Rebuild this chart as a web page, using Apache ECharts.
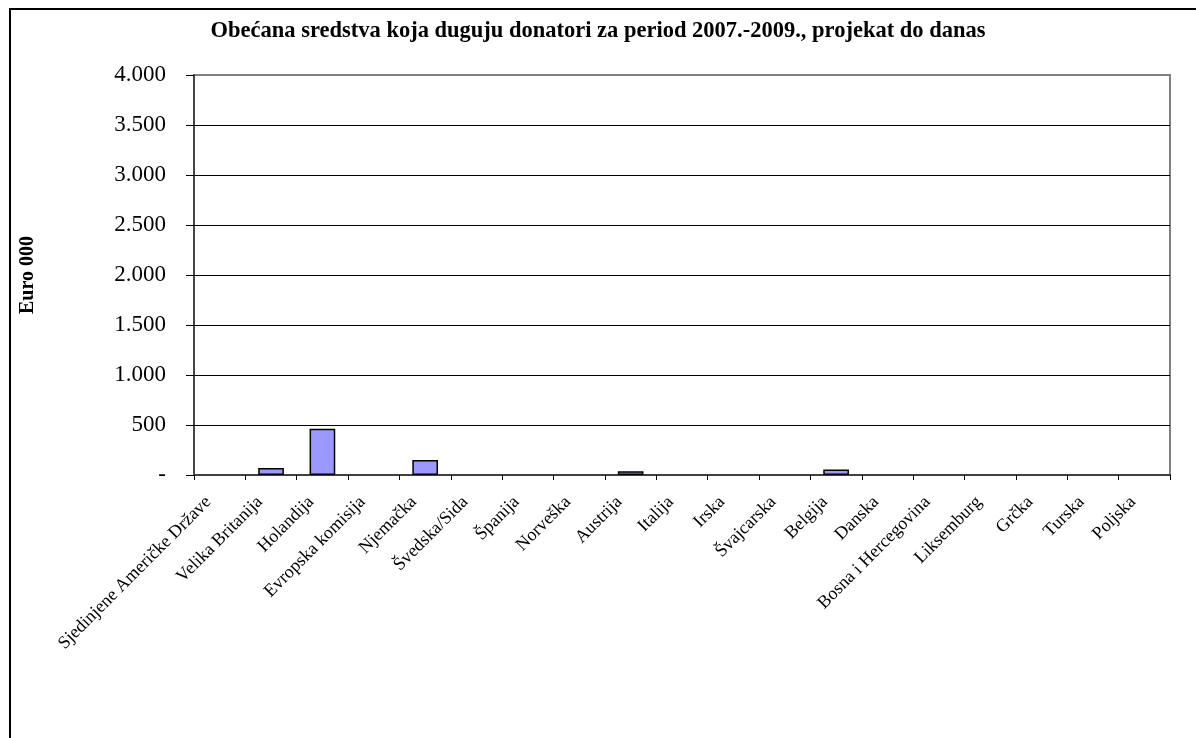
<!DOCTYPE html>
<html>
<head>
<meta charset="utf-8">
<script src="https://cdn.jsdelivr.net/npm/echarts@6/dist/echarts.min.js"></script>
<style>
  html, body { margin: 0; padding: 0; background: #fff; }
  #chart { width: 1196px; height: 738px; }
</style>
</head>
<body>
<div id="chart"></div>
<script>
(function() {

var donori = [
    'Sjedinjene Američke Države', 'Velika Britanija', 'Holandija', 'Evropska komisija',
    'Njemačka', 'Švedska/Sida', 'Španija', 'Norveška', 'Austrija', 'Italija', 'Irska',
    'Švajcarska', 'Belgija', 'Danska', 'Bosna i Hercegovina', 'Liksemburg', 'Grčka',
    'Turska', 'Poljska'
];

// duguju, u hiljadama eura
var iznosi = [0, 70, 463, 0, 150, 0, 0, 0, 37, 0, 0, 0, 55, 0, 0, 0, 0, 0, 0];

var naslov = 'Obećana sredstva koja duguju donatori za period 2007.-2009., projekat do danas';
var osaY = 'Euro 000';

var font = '"Liberation Serif", "Times New Roman", serif';

var myChart = echarts.init(document.getElementById('chart'));

var option = {
    backgroundColor: '#ffffff',
    animation: false,
    textStyle: { fontFamily: font, color: '#000' },
    title: {
        text: naslov,
        left: 'center',
        top: 15,
        textStyle: { fontFamily: font, fontSize: 22.5, fontWeight: 'bold', color: '#000' }
    },
    graphic: [{
        type: 'rect',
        shape: { x: 10, y: 9, width: 1300, height: 900 },
        style: { fill: null, stroke: '#000', lineWidth: 2 },
        silent: true
    }],
    grid: {
        left: 194, right: 26, top: 75, bottom: 263,
        show: true, borderColor: '#808080', borderWidth: 2, backgroundColor: 'transparent'
    },
    xAxis: {
        type: 'category',
        data: donori,
        boundaryGap: true,
        axisLine: { lineStyle: { color: '#404040', width: 2 } },
        axisTick: { show: true, interval: 0, length: 5, lineStyle: { color: '#000' } },
        axisLabel: {
            interval: 0,
            rotate: 45,
            margin: 13,
            padding: [0, 16, 0, 0],
            fontFamily: font,
            fontSize: 18,
            color: '#000'
        },
        splitLine: { show: false }
    },
    yAxis: {
        type: 'value',
        min: 0,
        max: 4000,
        interval: 500,
        name: osaY,
        nameLocation: 'middle',
        nameGap: 156,
        nameTextStyle: { fontFamily: font, fontSize: 20, fontWeight: 'bold', color: '#000' },
        axisLine: { show: true, lineStyle: { color: '#333', width: 1.5 } },
        axisTick: { show: true, length: 8, inside: false, lineStyle: { color: '#000' } },
        axisLabel: {
            margin: 28,
            fontFamily: font,
            fontSize: 23,
            color: '#000',
            formatter: function(v) {
                if (v === 0) return '-';
                return String(v).replace(/\B(?=(\d{3})+(?!\d))/g, '.');
            }
        },
        splitLine: { show: true, showMaxLine: false, showMinLine: false, lineStyle: { color: '#000', width: 1 } }
    },
    series: [{
        name: 'Euro 000',
        type: 'bar',
        data: iznosi.map(function(v) {
            // nulte vrijednosti bez okvira
            return v === 0 ? { value: v, itemStyle: { borderWidth: 0 } } : v;
        }),
        barWidth: '50%',
        itemStyle: { color: '#9999ff', borderColor: '#000', borderWidth: 1.5 }
    }]
};

myChart.setOption(option);

window.onresize = function() {
    myChart.resize();
};

})();
</script>
</body>
</html>
